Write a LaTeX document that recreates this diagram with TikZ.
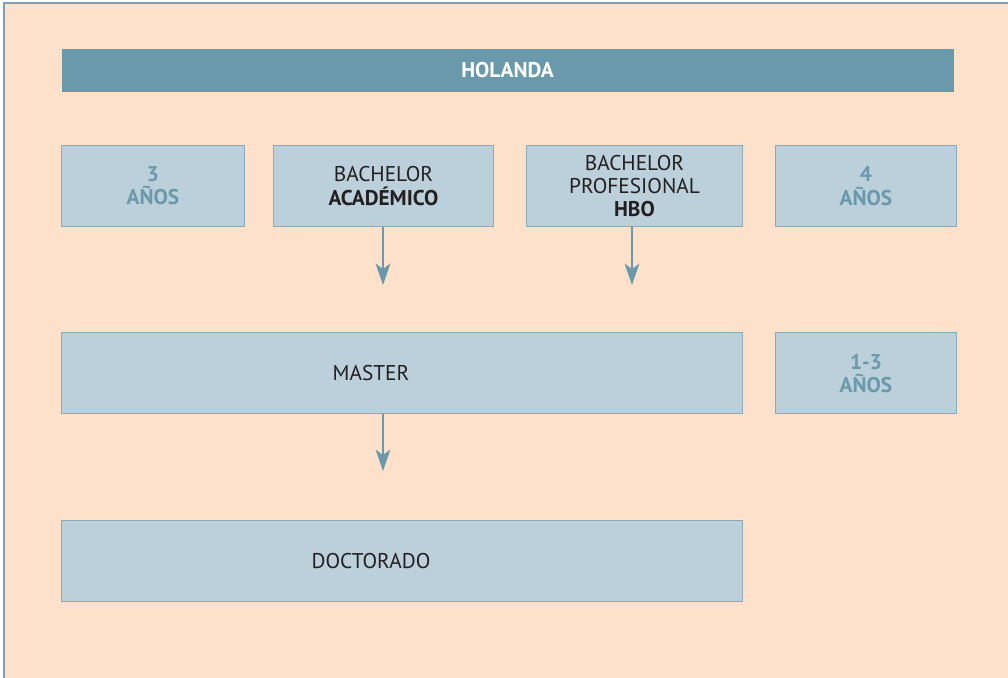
\documentclass[tikz,border=0pt]{standalone}
\usepackage{fontspec}
\setmainfont{PT Sans}
\usepackage{xcolor}
\usetikzlibrary{positioning, arrows.meta}
\definecolor{peach}{HTML}{FDE1CB}
\definecolor{frame}{HTML}{7F9FB2}
\definecolor{teal}{HTML}{6A99AB}
\definecolor{boxfill}{HTML}{BCD0DB}
\definecolor{boxline}{HTML}{8AAAB8}
\definecolor{ink}{HTML}{231F20}

\begin{document}
\begin{tikzpicture}[x=0.75pt, y=-0.75pt, >=Stealth, thick,
    block/.style={draw=boxline, line width=0.75pt, rectangle, fill=boxfill, minimum height=60.75pt, inner sep=0pt, align=center, font=\fontsize{16}{17.5}\selectfont\color{ink}},
    years/.style={block, minimum width=135.75pt, font=\fontsize{16}{17.5}\selectfont\bfseries\color{teal}},
    flow/.style={->, teal, line width=1.5pt, -{Stealth[length=16pt, width=11pt, inset=4pt]}}]
\useasboundingbox (0,0) rectangle (1008,678);
\fill[white] (0,0) rectangle (1008,678);
\filldraw[fill=peach, draw=frame, line width=1pt] (1010,680) -- (4,680) -- (4,3) -- (1010,3);

% Title
\node[fill=teal, minimum width=669pt, minimum height=32.25pt, inner sep=0pt, anchor=north west,
  font=\fontsize{16}{18}\selectfont\bfseries, text=white] (holanda) at (61,48) {HOLANDA};

% Row 1
\node[years, anchor=north west, minimum width=137.25pt] (tres) at (61,145) {3\\AÑOS};
\node[block, minimum width=165pt, right=21pt of tres] (academico) {BACHELOR\\\textbf{ACADÉMICO}};
\node[block, minimum width=162pt, right=24pt of academico] (hbo) {BACHELOR\\PROFESIONAL\\\textbf{HBO}};
\node[years, right=24pt of hbo] (cuatro) {4\\AÑOS};

% Row 2
\node[block, minimum width=510.75pt, below=79pt of tres.south west, anchor=north west,
  label={[xshift=-23.25pt, font=\fontsize{16}{18}\selectfont\color{ink}]center:MASTER}] (master) {};
\node[years, below=79pt of cuatro] (unotres) {1-3\\AÑOS};

% Row 3
\node[block, minimum width=510.75pt, below=79pt of master.south west, anchor=north west,
  label={[xshift=-23.25pt, font=\fontsize{16}{18}\selectfont\color{ink}]center:DOCTORADO}] (doctorado) {};

% Arrows (free ends)
\coordinate (a1) at (383,285);
\coordinate (a2) at (632,285);
\coordinate (a3) at (383,471);
\draw[flow] (academico.south -| a1) -- (a1);
\draw[flow] (hbo.south -| a2) -- (a2);
\draw[flow] (master.south -| a3) -- (a3);
\end{tikzpicture}
\end{document}
